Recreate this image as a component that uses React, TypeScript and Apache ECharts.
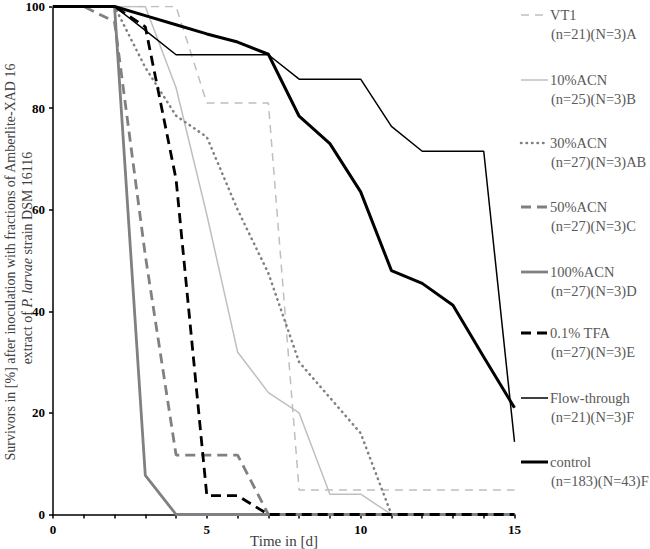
import React, { useEffect, useRef } from "react";
import * as echarts from "echarts";

const days = [0, 1, 2, 3, 4, 5, 6, 7, 8, 9, 10, 11, 12, 13, 14, 15];
const vt1 = [100, 100, 100, 100, 100, 81, 81, 81, 4.8, 4.8, 4.8, 4.8, 4.8, 4.8, 4.8, 4.8];
const acn10 = [100, 100, 100, 100, 84, 59, 32, 24, 20, 4, 4, 0, 0, 0, 0, 0];
const acn30 = [100, 100, 100, 88, 78.5, 74.3, 60, 47.5, 30, 23, 16, 0, 0, 0, 0, 0];
const acn50 = [100, 100, 97, 51, 11.7, 11.7, 11.7, 0, 0, 0, 0, 0, 0, 0, 0, 0];
const acn100 = [100, 100, 100, 7.7, 0, 0, 0, 0, 0, 0, 0, 0, 0, 0, 0, 0];
const tfa = [100, 100, 100, 96, 66, 3.7, 3.7, 0, 0, 0, 0, 0, 0, 0, 0, 0];
const flow = [100, 100, 100, 95.3, 90.5, 90.5, 90.5, 90.5, 85.7, 85.7, 85.7, 76.4, 71.5, 71.5, 71.5, 14.3];
const control = [100, 100, 100, 98.2, 96.4, 94.6, 93, 90.6, 78.4, 73, 63.5, 48, 45.5, 41.2, 31, 21];

const names1 = ["VT1", "10%ACN", "30%ACN", "50%ACN", "100%ACN", "0.1% TFA", "Flow-through", "control"];
const names2 = [
  "(n=21)(N=3)A",
  "(n=25)(N=3)B",
  "(n=27)(N=3)AB",
  "(n=27)(N=3)C",
  "(n=27)(N=3)D",
  "(n=27)(N=3)E",
  "(n=21)(N=3)F",
  "(n=183)(N=43)F",
];
const seriesValues = [vt1, acn10, acn30, acn50, acn100, tfa, flow, control];

const styles: any[] = [
  { color: "#bfbfbf", width: 1.5, type: [8, 6] },
  { color: "#bfbfbf", width: 1.5, type: "solid" },
  { color: "#808080", width: 2.5, type: [0.5, 5], cap: "round" },
  { color: "#808080", width: 2.8, type: [10, 6] },
  { color: "#808080", width: 2.8, type: "solid" },
  { color: "#000000", width: 2.8, type: [10, 6] },
  { color: "#000000", width: 1.5, type: "solid" },
  { color: "#000000", width: 3, type: "solid" },
];

const legendY = [15, 80, 143, 207, 272, 333, 398, 462];
const serif = "Liberation Serif";

export default function App() {
  const ref = useRef<HTMLDivElement>(null);
  useEffect(() => {
    if (!ref.current) return;
    const chart = echarts.init(ref.current, null, { renderer: "svg" });
    const series = seriesValues.map((vals, i) => ({
      name: names1[i],
      type: "line",
      data: days.map((d, j) => [d, vals[j]]),
      symbol: "none",
      showSymbol: false,
      lineStyle: styles[i],
      z: 2 + i,
    }));
    const graphics: any[] = [];
    legendY.forEach((y, i) => {
      const st = styles[i];
      const dash = Array.isArray(st.type) ? st.type : null;
      graphics.push({
        type: "line",
        shape: { x1: 521, y1: y, x2: 548, y2: y },
        style: {
          stroke: st.color,
          lineWidth: st.width,
          lineDash: dash,
          lineCap: st.cap || "butt",
        },
      });
      graphics.push({
        type: "text",
        x: 550,
        y: y,
        style: {
          text: names1[i],
          fontFamily: serif,
          fontSize: 14.5,
          fill: "#595959",
          textVerticalAlign: "middle",
        },
      });
      graphics.push({
        type: "text",
        x: 551,
        y: y + 18.5,
        style: {
          text: names2[i],
          fontFamily: serif,
          fontSize: 14.5,
          fill: "#595959",
          textVerticalAlign: "middle",
        },
      });
    });
    graphics.push({
      type: "text",
      x: 10,
      y: 262,
      rotation: Math.PI / 2,
      style: {
        text: "Survivors in [%] after inoculation with fractions of Amberlite-XAD 16",
        fontFamily: serif,
        fontSize: 14,
        fill: "#404040",
        textAlign: "center",
        textVerticalAlign: "middle",
      },
    });
    graphics.push({
      type: "text",
      x: 27,
      y: 258,
      rotation: Math.PI / 2,
      style: {
        text: "extract of {i|P. larvae} strain DSM 16116",
        fontFamily: serif,
        fontSize: 14,
        fill: "#404040",
        textAlign: "center",
        textVerticalAlign: "middle",
        rich: { i: { fontStyle: "italic", fontFamily: serif, fontSize: 14, fill: "#404040" } },
      },
    });
    graphics.push({
      type: "text",
      x: 284,
      y: 541,
      style: {
        text: "Time in [d]",
        fontFamily: serif,
        fontSize: 15,
        fill: "#404040",
        textAlign: "center",
        textVerticalAlign: "middle",
      },
    });

    chart.setOption({
      animation: false,
      grid: { left: 53, right: 135.5, top: 6, bottom: 34.5, containLabel: false },
      xAxis: {
        type: "value",
        min: 0,
        max: 15,
        interval: 5,
        axisLine: { show: true, onZero: false, lineStyle: { color: "#000", width: 1.5 } },
        axisTick: { show: true, length: 4, lineStyle: { color: "#000", width: 1.5 } },
        minorTick: { show: true, splitNumber: 5, length: 4, lineStyle: { color: "#000", width: 1.5 } },
        splitLine: { show: false },
        minorSplitLine: { show: false },
        axisLabel: {
          color: "#000",
          fontFamily: serif,
          fontWeight: "bold",
          fontSize: 13,
          margin: 8,
        },
      },
      yAxis: {
        type: "value",
        min: 0,
        max: 100,
        interval: 20,
        axisLine: { show: true, lineStyle: { color: "#000", width: 1.5 } },
        axisTick: { show: true, length: 4, lineStyle: { color: "#000", width: 1.5 } },
        splitLine: { show: false },
        axisLabel: {
          color: "#000",
          fontFamily: serif,
          fontWeight: "bold",
          fontSize: 13,
          margin: 8,
        },
      },
      series,
      graphic: graphics,
    });
    return () => chart.dispose();
  }, []);
  return <div ref={ref} style={{ width: 650, height: 549, position: "absolute", left: 0, top: 0 }} />;
}
